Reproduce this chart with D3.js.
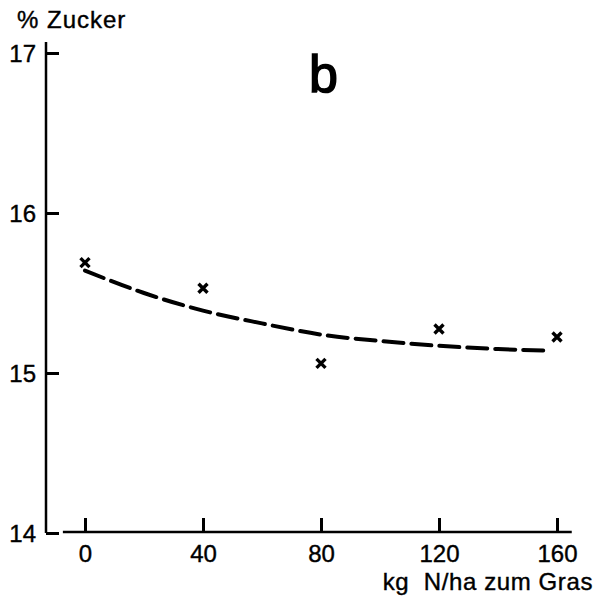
<!DOCTYPE html>
<html>
<head>
<meta charset="utf-8">
<script src="https://d3js.org/d3.v7.min.js"></script>
<style>
  body { margin: 0; background: #fff; }
  svg text { font-family: "Liberation Sans", Arial, sans-serif; fill: #000; }
</style>
</head>
<body>
<svg width="604" height="600"></svg>
<script>
// measured points (kg N/ha, % Zucker)
var nDose = [0, 40, 80, 120, 160];
var zucker = [15.69, 15.53, 15.06, 15.275, 15.225];
// fitted curve
var curveX = [0, 20, 40, 60, 80, 100, 120, 140, 156];
var curveY = [15.64, 15.50, 15.39, 15.31, 15.24, 15.20, 15.17, 15.15, 15.14];
var xTicks = [0, 40, 80, 120, 160];
var yTicks = [14, 15, 16, 17];

var svg = d3.select("svg");
var x = d3.scaleLinear().domain([0, 160]).range([85, 557]);
var y = d3.scaleLinear().domain([14, 17]).range([533, 53]);

// y axis: ticks point right, labels on the left
var yaxis = d3.axisLeft(y).tickValues(yTicks).tickFormat(d3.format("d"))
  .tickSizeInner(-13).tickSizeOuter(0).tickPadding(10);
var gy = svg.append("g").attr("transform", "translate(46,0)").call(yaxis);
gy.select(".domain").remove();
gy.selectAll(".tick line").attr("stroke", "#000").attr("stroke-width", 3);
gy.selectAll(".tick text").style("font-size", "24px").attr("dy", "0.36em")
  .attr("stroke", "#000").attr("stroke-width", 0.4);
gy.append("line")
  .attr("x1", 0).attr("x2", 0)
  .attr("y1", y(17) - 11).attr("y2", y(14))
  .attr("stroke", "#000").attr("stroke-width", 2.5);

// x axis: ticks point up, labels below
var xaxis = d3.axisBottom(x).tickValues(xTicks).tickFormat(d3.format("d"))
  .tickSizeInner(-14).tickSizeOuter(0).tickPadding(13);
var gx = svg.append("g").attr("transform", "translate(0,532)").call(xaxis);
gx.select(".domain").remove();
gx.selectAll(".tick line").attr("stroke", "#000").attr("stroke-width", 3);
gx.selectAll(".tick text").style("font-size", "24px")
  .attr("stroke", "#000").attr("stroke-width", 0.4);
gx.append("line")
  .attr("x1", x(-7.5)).attr("x2", x(165))
  .attr("y1", 0).attr("y2", 0)
  .attr("stroke", "#000").attr("stroke-width", 2.5);

// dashed curve
var line = d3.line().curve(d3.curveMonotoneX)
  .x(function(d, i) { return x(curveX[i]); })
  .y(function(d) { return y(d); });
svg.append("path")
  .datum(curveY)
  .attr("d", line)
  .attr("fill", "none")
  .attr("stroke", "#000")
  .attr("stroke-width", 4)
  .attr("stroke-dasharray", "20,8")
  .attr("stroke-linecap", "round");

// crosses
var s = 4.5;
for (var i = 0; i < nDose.length; i++) {
  var cx = x(nDose[i]), cy = y(zucker[i]);
  svg.append("path")
    .attr("d", "M" + (cx - s) + "," + (cy - s) + "L" + (cx + s) + "," + (cy + s) +
               "M" + (cx - s) + "," + (cy + s) + "L" + (cx + s) + "," + (cy - s))
    .attr("stroke", "#000")
    .attr("stroke-width", 3.4);
}

// labels
svg.append("text").text("% Zucker")
  .attr("x", 17).attr("y", 28)
  .style("font-size", "24px")
  .style("letter-spacing", "1px")
  .attr("stroke", "#000").attr("stroke-width", 0.4);

svg.append("text").text("kg  N/ha zum Gras")
  .attr("x", 593).attr("y", 590)
  .attr("text-anchor", "end")
  .style("font-size", "24px")
  .style("white-space", "pre")
  .style("letter-spacing", "0.6px")
  .attr("stroke", "#000").attr("stroke-width", 0.4);

svg.append("text").text("b")
  .attr("x", 309).attr("y", 92)
  .style("font-size", "52px")
  .attr("stroke", "#000").attr("stroke-width", 1.5);
</script>
</body>
</html>
